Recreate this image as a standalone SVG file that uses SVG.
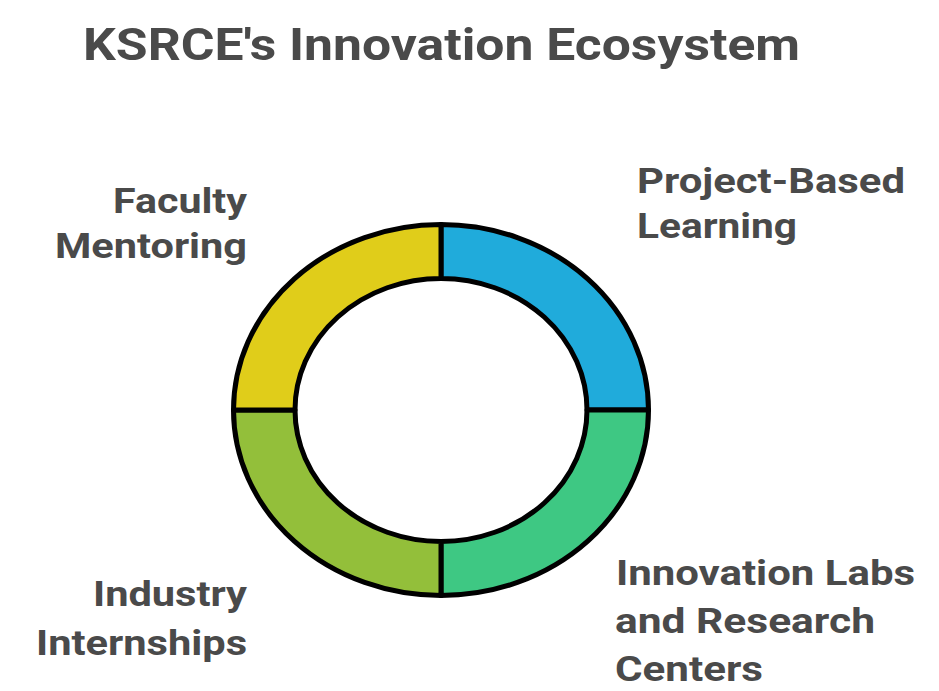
<svg xmlns="http://www.w3.org/2000/svg" width="939" height="691" viewBox="0 0 939 691">
  <style>
    .seg { stroke: #000; stroke-width: 5; stroke-linejoin: round; }
    .lbl { font-family: Roboto, "Liberation Sans", sans-serif; font-weight: bold; font-size: 35px; fill: #4a4a4a; }
    .title { font-family: Roboto, "Liberation Sans", sans-serif; font-weight: bold; font-size: 45px; fill: #4a4a4a; }
  </style>
  <rect width="939" height="691" fill="#ffffff"/>
  <text class="title" x="83" y="60" textLength="717" lengthAdjust="spacingAndGlyphs">KSRCE's Innovation Ecosystem</text>
  <g id="project-based-learning">
    <path class="seg" fill="#20ABDB" d="M 441,224.5 A 207.5 185.5 0 0 1 648.5,410 L 587,410 A 146 131.5 0 0 0 441,278.5 Z"/>
    <text class="lbl" x="637" y="193" textLength="268" lengthAdjust="spacingAndGlyphs">Project-Based</text>
    <text class="lbl" x="637" y="238" textLength="160" lengthAdjust="spacingAndGlyphs">Learning</text>
  </g>
  <g id="innovation-labs">
    <path class="seg" fill="#3EC883" d="M 648.5,410 A 207.5 185.5 0 0 1 441,595.5 L 441,541.5 A 146 131.5 0 0 0 587,410 Z"/>
    <text class="lbl" x="616" y="585" textLength="299" lengthAdjust="spacingAndGlyphs">Innovation Labs</text>
    <text class="lbl" x="615" y="633" textLength="260" lengthAdjust="spacingAndGlyphs">and Research</text>
    <text class="lbl" x="615" y="681" textLength="148" lengthAdjust="spacingAndGlyphs">Centers</text>
  </g>
  <g id="industry-internships">
    <path class="seg" fill="#93BF3A" d="M 441,595.5 A 207.5 185.5 0 0 1 233.5,410 L 295,410 A 146 131.5 0 0 0 441,541.5 Z"/>
    <text class="lbl" x="93" y="606" textLength="154" lengthAdjust="spacingAndGlyphs">Industry</text>
    <text class="lbl" x="36" y="655" textLength="211" lengthAdjust="spacingAndGlyphs">Internships</text>
  </g>
  <g id="faculty-mentoring">
    <path class="seg" fill="#E0CD1A" d="M 233.5,410 A 207.5 185.5 0 0 1 441,224.5 L 441,278.5 A 146 131.5 0 0 0 295,410 Z"/>
    <text class="lbl" x="113" y="213" textLength="134" lengthAdjust="spacingAndGlyphs">Faculty</text>
    <text class="lbl" x="55" y="258" textLength="192" lengthAdjust="spacingAndGlyphs">Mentoring</text>
  </g>
  <g id="connectors"></g>
</svg>
